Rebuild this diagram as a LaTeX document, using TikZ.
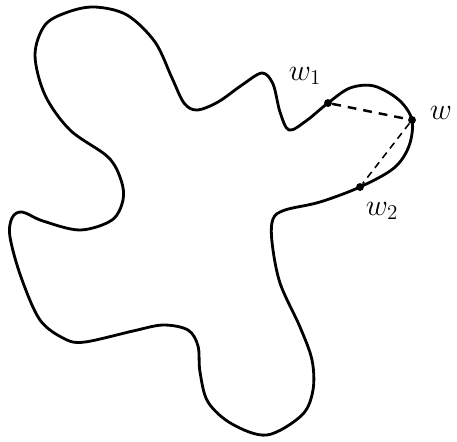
\documentclass[tikz,border=0pt]{standalone}
\usepackage{amsmath}
\usetikzlibrary{calc}

\begin{document}
\begin{tikzpicture}[x=0.02cm,y=-0.02cm,
    pt/.style={circle,fill,inner sep=0pt,minimum size=4.5pt},
    lbl/.style={font=\fontsize{18}{20}\selectfont}]
      \useasboundingbox (0,0) rectangle (457,441);
      \coordinate (w1) at (328,103);
      \coordinate (w) at (412,120);
      \coordinate (w2) at (360,187);
      \draw[line width=1.6pt,line join=round] plot[smooth cycle,tension=0.55] coordinates {
        (95,7) (127,15) (155,42) (172,78) (184,103) (197,110) (218,102) (242,85) (262,73)
        (273,84) (280,112) (289,130) (306,121) (w1) (350,88) (374,86) (399,100) (w)
        (409,146) (394,168) (w2) (320,202) (285,210) (273,219) (272,242) (280,283)
        (300,327) (312,360) (313,390) (302,415) (267,435) (232,424) (208,402) (200,372)
        (198,346) (188,330) (163,325) (133,331) (85,342) (65,339) (40,320) (21,277)
        (10,237) (12,218) (22,212) (43,221) (80,230) (112,220) (123,200) (121,180)
        (108,157) (70,130) (45,95) (35,55) (45,25) (68,12)};
      \node[pt] (p1) at (w1) {};
      \node[pt] (p) at (w) {};
      \node[pt] (p2) at (w2) {};
      \draw[line width=1.4pt,dash pattern=on 5pt off 4pt] (p1) -- (p);
      \draw[line width=0.9pt,dash pattern=on 4pt off 3pt] (p) -- (p2);
      \node[lbl] (l1) at (305,76) {$w_1$};
      \node[lbl] (l) at (441,113) {$w$};
      \node[lbl] (l2) at (382,211) {$w_2$};
    \end{tikzpicture}
\end{document}
